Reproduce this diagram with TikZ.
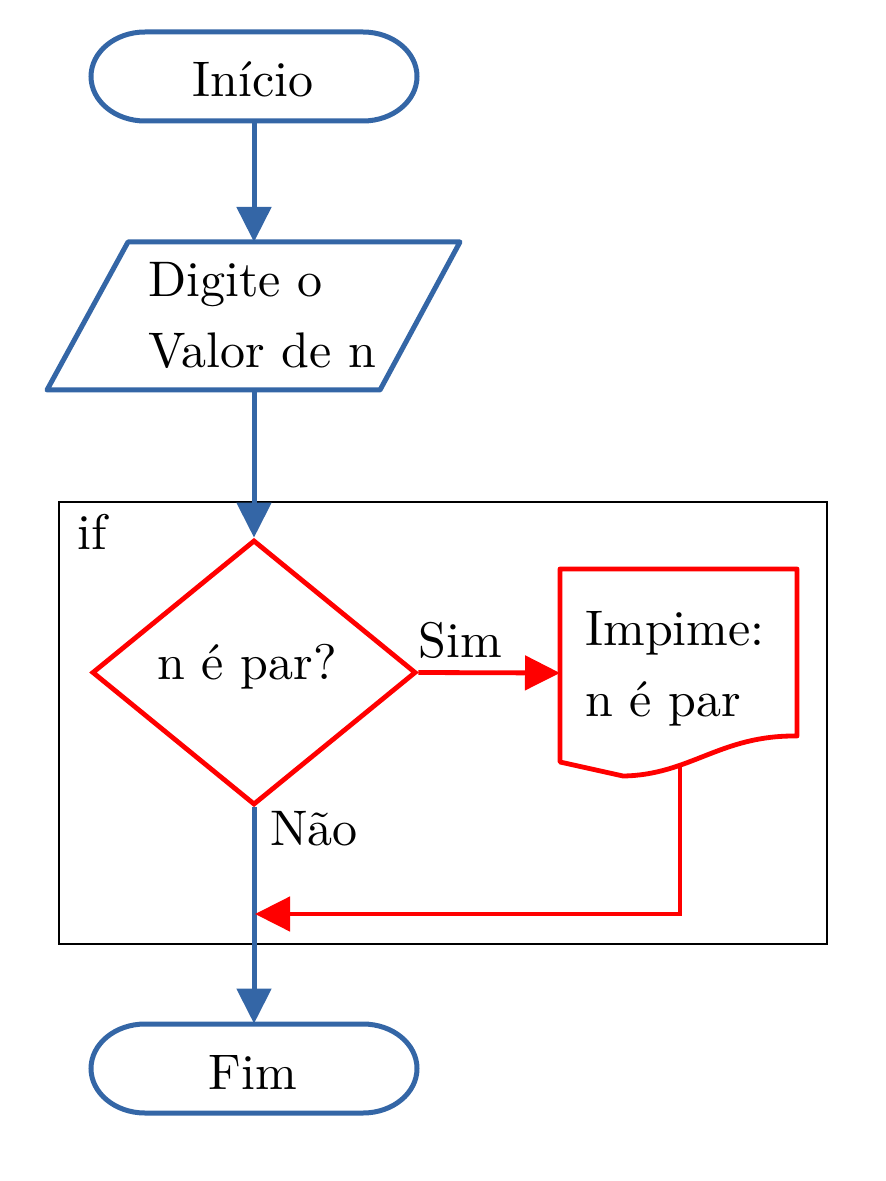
\documentclass[tikz,border=0pt]{standalone}
\usepackage{fontspec}
\setmainfont{lmroman10-regular.otf}
\usetikzlibrary{arrows.meta,shapes.geometric}
\definecolor{fblue}{RGB}{52,102,166}
\definecolor{fred}{RGB}{255,0,0}
\begin{document}
\begin{tikzpicture}[x=0.5pt,y=-0.5pt,
  every node/.style={font=\fontsize{25}{35.5}\selectfont},
  term/.style={minimum width=163pt,minimum height=44.5pt,inner sep=0pt,text height=20.5pt,text depth=0pt},
  blueline/.style={draw=fblue,line width=2.5pt},
  redline/.style={draw=fred,line width=2.4pt},
  bluearrow/.style={blueline,-{Triangle[length=17.5pt,width=17pt]}},
  redarrow/.style={redline,-{Triangle[length=17.5pt,width=17pt]}},
  decision/.style={diamond,draw=fred,line width=2.4pt,minimum width=162pt,minimum height=132.5pt,inner sep=0pt,aspect=1.22},
  txt/.style={inner sep=0pt,align=left}
]
\useasboundingbox (0,0) rectangle (886,1181);
% frame
\node[draw=black,line width=1pt,minimum width=384pt,minimum height=221pt,inner sep=0pt] (frame) at (443,723) {};
\node[txt,anchor=base west] (iflbl) at (77,549) {if};
% start
\node[term] (start) at (253,76.5) {Início};
\draw[blueline] (145,32) -- (363,32) arc[start angle=90,end angle=-90,x radius=27pt,y radius=22.25pt]
  -- (145,121) arc[start angle=270,end angle=90,x radius=27pt,y radius=22.25pt] -- cycle;
% input parallelogram
\coordinate (p1) at (128,242);
\coordinate (p2) at (460,242);
\coordinate (p3) at (380,390);
\coordinate (p4) at (47,390);
\draw[blueline,line join=round] (p1) -- (p2) -- (p3) -- (p4) -- cycle;
\coordinate (intop) at (254,242);
\coordinate (inbot) at (254,390);
\node[txt,anchor=base west] (intext) at (148,368) {Digite o\\Valor de n};
% decision
\node[decision] (dec) at (254,672.5) {};
\node[txt,anchor=base] (dectext) at (247,679) {n é par?};
% document
\coordinate (d1) at (560,569);
\coordinate (d2) at (797,569);
\coordinate (d3) at (797,736);
\coordinate (d4) at (623,776);
\coordinate (d5) at (560,762);
\draw[redline,line join=round] (d5) -- (d1) -- (d2) -- (d3) .. controls (720,735) and (690,775) .. (d4) -- cycle;
\coordinate (docwest) at (560,673);
\coordinate (docbot) at (680,765);
\node[txt,anchor=base west] (doctext) at (585,716) {Impime:\\n é par};
% end
\node[term] (end) at (253,1068.5) {Fim};
\draw[blueline] (145,1024) -- (363,1024) arc[start angle=90,end angle=-90,x radius=27pt,y radius=22.25pt]
  -- (145,1113) arc[start angle=270,end angle=90,x radius=27pt,y radius=22.25pt] -- cycle;
% connectors
\draw[bluearrow] (start.south -| intop) -- (intop);
\draw[bluearrow] (inbot) -- (dec.north);
\draw[bluearrow] (dec.south) -- (end.north -| dec.south);
\draw[redarrow] (dec.east) -- (docwest);
\coordinate (join) at (255,914);
\draw[redarrow] (docbot) |- (join);
% labels
\node[txt,anchor=base west] (sim) at (418,657) {Sim};
\node[txt,anchor=base west] (nao) at (270,845) {Não};
\end{tikzpicture}
\end{document}
